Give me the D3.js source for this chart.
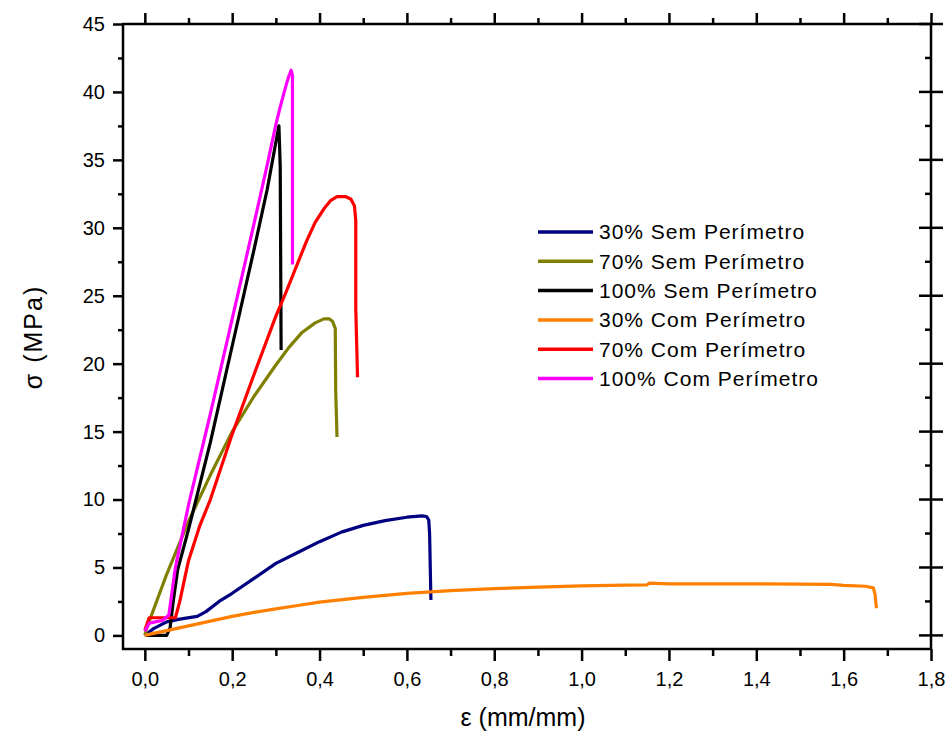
<!DOCTYPE html>
<html lang="pt">
<head>
<meta charset="UTF-8">
<title>Tensão x Deformação</title>
<style>
  body { margin: 0; background: white; }
  #svg { display: block; }
  text { font-family: "Liberation Sans", Arial, sans-serif; fill: #000; }
</style>
<script src="https://d3js.org/d3.v7.min.js"></script>
</head>
<body>
<svg id="svg"></svg>
<script>
const width = 951;
const height = 738;

// tick values
const xMajor = [0, 0.2, 0.4, 0.6, 0.8, 1.0, 1.2, 1.4, 1.6, 1.8];
const xMinor = [0.1, 0.3, 0.5, 0.7, 0.9, 1.1, 1.3, 1.5, 1.7];
const yMajor = [0, 5, 10, 15, 20, 25, 30, 35, 40, 45];
const yMinor = [2.5, 7.5, 12.5, 17.5, 22.5, 27.5, 32.5, 37.5, 42.5];

const seriesNames = ['30% Sem Perímetro', '70% Sem Perímetro', '100% Sem Perímetro',
                     '30% Com Perímetro', '70% Com Perímetro', '100% Com Perímetro'];
const seriesColors = ['#000080', '#808000', '#000000', '#ff8000', '#ff0000', '#ff00ff'];

// [strain, stress]
const sem30 = [[0,0],[0.02,0.5],[0.05,1.0],[0.08,1.2],[0.12,1.4],[0.14,1.75],[0.17,2.5],[0.2,3.1],
  [0.25,4.2],[0.3,5.3],[0.35,6.1],[0.4,6.9],[0.45,7.6],[0.5,8.1],[0.55,8.45],[0.6,8.7],[0.635,8.8],
  [0.645,8.75],[0.65,8.5],[0.652,7.5],[0.655,2.6]];
const sem70 = [[0,0],[0.005,0.6],[0.05,4.5],[0.1,8.4],[0.15,11.8],[0.2,15.0],[0.25,17.6],[0.3,19.9],
  [0.33,21.2],[0.36,22.3],[0.39,23.0],[0.41,23.3],[0.422,23.3],[0.43,23.1],[0.436,22.6],
  [0.437,18.0],[0.44,14.6]];
const sem100 = [[0,0],[0.05,0],[0.058,0.6],[0.065,2.5],[0.075,4.8],[0.1,7.8],[0.15,14.2],[0.2,21.3],
  [0.25,28.4],[0.28,32.8],[0.3,36.3],[0.307,37.5],[0.31,34.5],[0.312,21.0]];
const com30 = [[0,0],[0.02,0.15],[0.05,0.35],[0.1,0.7],[0.15,1.05],[0.2,1.4],[0.25,1.7],[0.3,1.95],
  [0.35,2.2],[0.4,2.45],[0.5,2.8],[0.6,3.1],[0.7,3.3],[0.8,3.45],[0.9,3.55],[1.0,3.65],[1.1,3.7],
  [1.15,3.72],[1.155,3.85],[1.2,3.8],[1.3,3.8],[1.4,3.8],[1.5,3.78],[1.57,3.75],[1.6,3.68],
  [1.65,3.62],[1.668,3.5],[1.672,3.0],[1.675,2.0]];
const com70 = [[0,0.4],[0.01,1.3],[0.04,1.3],[0.07,1.3],[0.08,2.5],[0.1,5.5],[0.125,8.0],[0.15,10.0],
  [0.2,14.8],[0.25,19.2],[0.3,23.5],[0.32,25.0],[0.35,27.4],[0.37,29.0],[0.39,30.4],[0.41,31.4],
  [0.425,32.0],[0.44,32.3],[0.46,32.3],[0.472,32.1],[0.48,31.6],[0.483,30.5],[0.483,24.0],
  [0.487,19.0]];
const com100 = [[0,0.3],[0.01,0.9],[0.04,1.1],[0.055,1.5],[0.07,5.0],[0.1,9.6],[0.15,16.3],[0.2,23.3],
  [0.25,30.3],[0.28,34.6],[0.3,37.6],[0.31,38.9],[0.32,40.1],[0.328,41.0],[0.335,41.6],[0.338,41.2],
  [0.338,27.3]];

const allSeries = [sem30, sem70, sem100, com30, com70, com100];

const plotL = 123, plotR = 931, plotT = 24, plotB = 649;

const x = d3.scaleLinear().domain([-0.05, 1.8]).range([plotL, plotR]);
const y = d3.scaleLinear().domain([-1, 45]).range([plotB, plotT]);

const svg = d3.select('#svg').attr('width', width).attr('height', height);

const fmt = d => d3.format('.1f')(d).replace('.', ',');

// curves
const line = d3.line().x(d => x(d[0])).y(d => y(d[1]));
svg.append('g')
  .selectAll('path')
  .data(allSeries)
  .enter()
  .append('path')
  .attr('d', d => line(d))
  .attr('fill', 'none')
  .attr('stroke', (d, i) => seriesColors[i])
  .attr('stroke-width', 3.2)
  .attr('stroke-linejoin', 'round');

// axes
function styleAxis(g) {
  g.select('.domain').remove();
  g.selectAll('.tick line').attr('stroke', '#000').attr('stroke-width', 2.5);
  g.selectAll('.tick text').style('font-size', '20px').attr('fill', '#000');
}

svg.append('g').attr('transform', `translate(0,${plotB})`)
  .call(d3.axisBottom(x).tickValues(xMajor).tickSize(12).tickPadding(11).tickFormat(fmt))
  .call(styleAxis);
svg.append('g').attr('transform', `translate(0,${plotB})`)
  .call(d3.axisBottom(x).tickValues(xMinor).tickSize(7).tickFormat(''))
  .call(styleAxis);
svg.append('g').attr('transform', `translate(0,${plotT})`)
  .call(d3.axisTop(x).tickValues(xMajor).tickSize(11).tickFormat(''))
  .call(styleAxis);
svg.append('g').attr('transform', `translate(0,${plotT})`)
  .call(d3.axisTop(x).tickValues(xMinor).tickSize(6).tickFormat(''))
  .call(styleAxis);
svg.append('g').attr('transform', `translate(${plotL},0)`)
  .call(d3.axisLeft(y).tickValues(yMajor).tickSize(10).tickPadding(8))
  .call(styleAxis);
svg.append('g').attr('transform', `translate(${plotL},0)`)
  .call(d3.axisLeft(y).tickValues(yMinor).tickSize(5).tickFormat(''))
  .call(styleAxis);

// right axis: major ticks cross the line, minor ticks inside
svg.append('g').selectAll('line')
  .data(yMajor)
  .enter()
  .append('line')
  .attr('x1', plotR - 12).attr('x2', plotR + 12)
  .attr('y1', d => y(d)).attr('y2', d => y(d))
  .attr('stroke', '#000').attr('stroke-width', 2.5);
svg.append('g').selectAll('line')
  .data(yMinor)
  .enter()
  .append('line')
  .attr('x1', plotR - 6).attr('x2', plotR)
  .attr('y1', d => y(d)).attr('y2', d => y(d))
  .attr('stroke', '#000').attr('stroke-width', 2.5);

// frame
svg.append('rect')
  .attr('x', plotL).attr('y', plotT)
  .attr('width', plotR - plotL).attr('height', plotB - plotT)
  .attr('fill', 'none').attr('stroke', '#000').attr('stroke-width', 2.5);

// axis titles
svg.append('text')
  .attr('x', 523).attr('y', 726)
  .attr('text-anchor', 'middle')
  .style('font-size', '25px')
  .text('ε (mm/mm)');
svg.append('text')
  .attr('transform', `translate(42,337) rotate(-90)`)
  .attr('text-anchor', 'middle')
  .style('font-size', '25px')
  .style('letter-spacing', '2px')
  .text('σ (MPa)');

// legend
const legend = svg.append('g').attr('transform', 'translate(538,232)')
  .selectAll('g')
  .data(seriesNames)
  .enter()
  .append('g')
  .attr('transform', (d, i) => `translate(0,${i * 29.3})`);
legend.append('line')
  .attr('x1', 0).attr('x2', 55)
  .attr('stroke', (d, i) => seriesColors[i])
  .attr('stroke-width', 3.5);
legend.append('text')
  .attr('x', 61).attr('dy', '0.35em')
  .style('font-size', '21px')
  .style('letter-spacing', '1px')
  .text(d => d);
</script>
</body>
</html>
